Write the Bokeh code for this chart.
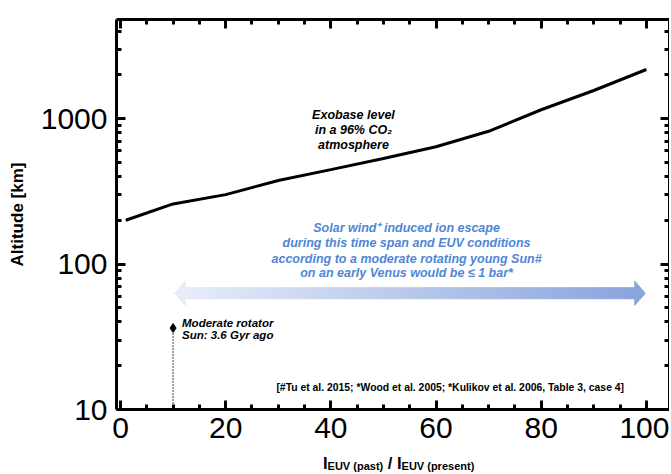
from bokeh.plotting import figure
from bokeh.layouts import column
from bokeh.models import (Range1d, LinearAxis, LogAxis, Label, FixedTicker, PrintfTickFormatter,
                          CustomJSTickFormatter, Div)
from bokeh.embed import file_html
from bokeh.resources import INLINE

# ---- data ----
euv_ratio = [1, 10, 20, 30, 40, 50, 60, 70, 80, 90, 100]
exobase_km = [200, 259, 300, 375, 446, 531, 640, 818, 1150, 1560, 2175]
rotator_ratio = [10]
rotator_km = [36.3]
arrow_start = 10.3
arrow_end = 99.8
arrow_km = 63
x_major = [0, 20, 40, 60, 80, 100]
y_major = [10, 100, 1000]

FONT = "Liberation Sans"
BLUE = "#4f86d6"

x_minor = [v for v in range(0, 105, 5) if v not in x_major]
y_minor = [m * d for d in (10, 100, 1000) for m in range(2, 10) if m * d < 4800]

p = figure(width=669, height=452, x_range=Range1d(-0.76, 104.4), y_range=Range1d(10, 4800),
           y_axis_type="log", output_backend="svg", toolbar_location=None,
           min_border_left=116, min_border_top=19, min_border_bottom=43, min_border_right=0)
p.grid.visible = False
p.outline_line_color = None
p.background_fill_color = "white"

def style_axis(ax, labels=True):
    ax.axis_line_width = 3
    ax.axis_line_color = "black"
    ax.major_tick_in = 9
    ax.major_tick_out = 0
    ax.minor_tick_in = 5
    ax.minor_tick_out = 0
    ax.major_tick_line_width = 3
    ax.minor_tick_line_width = 3
    ax.major_tick_line_color = "black"
    ax.minor_tick_line_color = "black"
    if labels:
        ax.major_label_text_font = FONT
        ax.major_label_text_font_size = "30px"
        ax.major_label_text_color = "black"
    else:
        ax.formatter = CustomJSTickFormatter(code="return ''")
        ax.major_label_text_font_size = "1px"
        ax.major_label_standoff = 0

xt = FixedTicker(ticks=x_major, minor_ticks=x_minor)
yt = FixedTicker(ticks=y_major, minor_ticks=y_minor)

p.xaxis.ticker = xt
p.yaxis.ticker = yt
p.yaxis.formatter = PrintfTickFormatter(format="%d")
style_axis(p.xaxis[0])
style_axis(p.yaxis[0])
p.xaxis.major_label_standoff = 8
p.yaxis.major_label_standoff = 9
p.yaxis.axis_label = "Altitude [km]"
p.yaxis.axis_label_text_font = FONT
p.yaxis.axis_label_text_font_size = "17px"
p.yaxis.axis_label_text_font_style = "bold"
p.yaxis.axis_label_text_color = "black"
p.yaxis.axis_label_standoff = 11

top = LinearAxis(ticker=xt)
style_axis(top, labels=False)
p.add_layout(top, "above")
right = LogAxis(ticker=yt)
style_axis(right, labels=False)
p.add_layout(right, "right")

# exobase curve
p.line(euv_ratio, exobase_km, line_width=3, line_color="black")

# gradient double arrow
head_len = 2.0
half_shaft = 10 ** 0.038
half_head = 10 ** 0.083
c0 = (230, 236, 248)
c1 = (138, 164, 220)
n = 90
s0 = arrow_start + head_len
s1 = arrow_end - head_len
lefts, rights, cols = [], [], []
for i in range(n):
    a = s0 + (s1 - s0) * i / n
    b = s0 + (s1 - s0) * (i + 1) / n
    t = (i + 0.5) / n
    col = "#%02x%02x%02x" % tuple(int(round(c0[k] + (c1[k] - c0[k]) * t)) for k in range(3))
    lefts.append(a); rights.append(b); cols.append(col)
p.quad(left=lefts, right=rights, bottom=arrow_km / half_shaft, top=arrow_km * half_shaft,
       fill_color=cols, line_color=cols, line_width=1)
p.patch([arrow_start, s0, s0], [arrow_km, arrow_km * half_head, arrow_km / half_head],
        fill_color="#%02x%02x%02x" % c0, line_color="#%02x%02x%02x" % c0)
p.patch([arrow_end, s1, s1], [arrow_km, arrow_km * half_head, arrow_km / half_head],
        fill_color="#%02x%02x%02x" % c1, line_color="#%02x%02x%02x" % c1)

# moderate rotator marker
p.segment(x0=rotator_ratio, y0=[10] * len(rotator_ratio), x1=rotator_ratio, y1=rotator_km,
          line_color="black", line_width=1.5, line_dash="1 2")
p.scatter(rotator_ratio, rotator_km, marker="diamond", size=9, color="black")

def lab(x, y, text, size, style="bold italic", color="black", align="center", **kw):
    p.add_layout(Label(x=x, y=y, text=text, text_font=FONT, text_font_size=size,
                       text_font_style=style, text_color=color, text_align=align,
                       text_baseline="middle", **kw))

# exobase annotation
for yy, tx in zip([1052, 830, 654], ["Exobase level", "in a 96% CO\u2082", "atmosphere"]):
    lab(44.3, yy, tx, "12.5px")

# blue annotation
blue_lines = ["Solar wind\u207a induced ion escape",
              "during this time span and EUV conditions",
              "according to a moderate rotating young Sun#",
              "on an early Venus would be \u2264 1 bar*"]
for yy, tx in zip([176.6, 139.3, 108.7, 86.5], blue_lines):
    lab(54.4, yy, tx, "12.5px", color=BLUE)

lab(11.7, 39.3, "Moderate rotator", "11.5px", align="left")
lab(11.7, 32.7, "Sun: 3.6 Gyr ago", "11.5px", align="left")

lab(62.7, 14.1, "[#Tu et al. 2015; *Wood et al. 2005; *Kulikov et al. 2006, Table 3, case 4]",
    "10.4px", style="bold")

# x axis title with subscripts
sub = "<span style='font-size:11px; vertical-align:-1px; line-height:0'>{}</span>"
xlabel = Div(
    text="I" + sub.format("EUV (past)") + " / I" + sub.format("EUV (present)"),
    width=669, height=22,
    styles={"font-family": FONT, "font-weight": "bold", "font-size": "16.5px",
            "color": "black", "padding-left": "318px", "line-height": "12px",
            "white-space": "nowrap"})

layout = column(p, xlabel, spacing=0)
open("out.html", "w").write(file_html(layout, INLINE))
